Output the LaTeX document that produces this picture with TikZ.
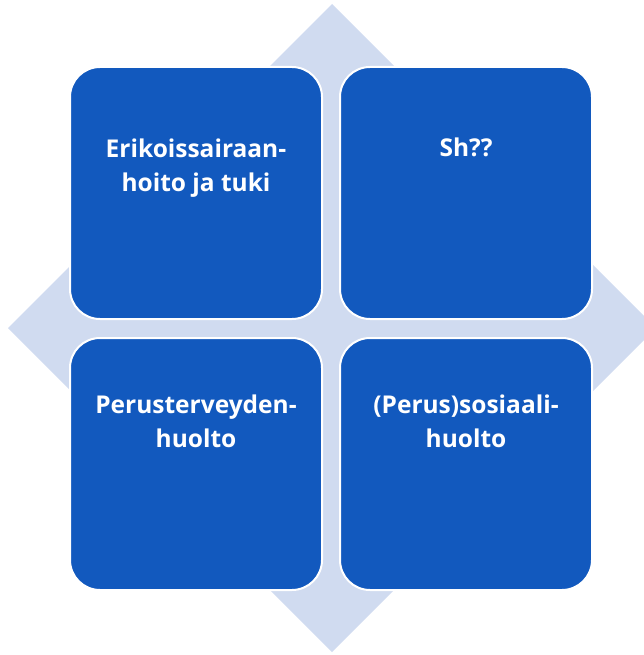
\documentclass[tikz,border=0pt]{standalone}
\usepackage{fontspec}
\setmainfont{Open Sans}
\usetikzlibrary{positioning}
\definecolor{tileblue}{HTML}{1259BE}
\definecolor{paleblue}{HTML}{D0DBF0}

\begin{document}
\begin{tikzpicture}[x=1pt, y=-1pt,
  tile/.style={draw=white, line width=2pt, fill=tileblue, rounded corners=30pt,
    minimum size=252pt, inner sep=0pt, outer sep=0pt},
  tiletext/.style={text=white, font=\bfseries\fontsize{24.5}{34}\selectfont,
    align=center, anchor=base, inner sep=0pt}]
  \useasboundingbox (0,0) rectangle (643,655);
  % pale diamond behind the tiles
  \fill[paleblue] (332,4) -- (656,328) -- (332,652) -- (8,328) -- cycle;
  % the four tiles
  \node[tile] (erik) at (196,193) {};
  \node[tile, right=18pt of erik] (sh) {};
  \node[tile, below=19pt of erik] (perus) {};
  \node[tile, below=19pt of sh] (sos) {};
  % labels, last baseline measured from the tile top
  \node[tiletext] (erikt) at ([yshift=-124pt]erik.north) {Erikoissairaan-\\hoito ja tuki};
  \node[tiletext] (sht) at ([yshift=-90pt]sh.north) {Sh??};
  \node[tiletext] (perust) at ([yshift=-109pt]perus.north) {Perusterveyden-\\huolto};
  \node[tiletext] (sost) at ([yshift=-109pt]sos.north) {(Perus)sosiaali-\\huolto};
\end{tikzpicture}
\end{document}
